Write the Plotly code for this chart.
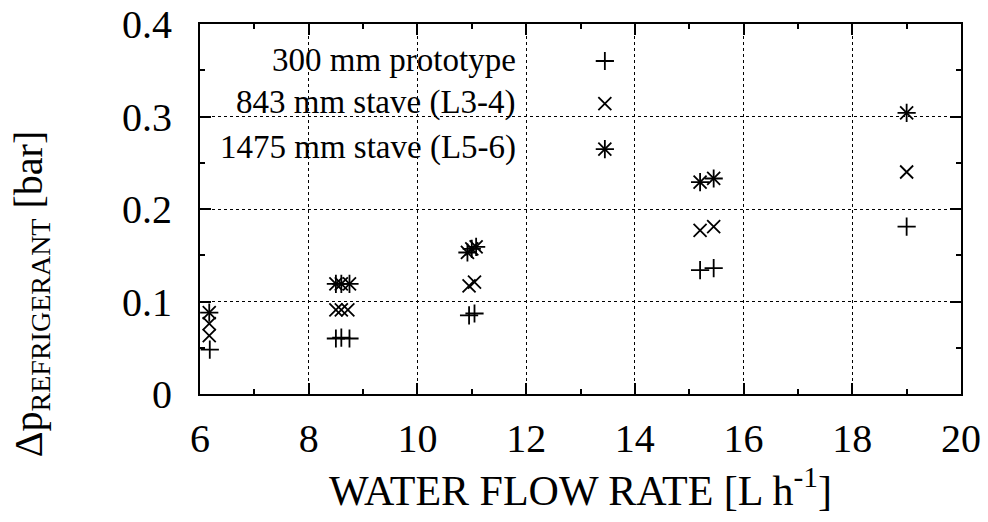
import plotly.graph_objects as go

# Refrigerant pressure drop vs. water flow rate for three stave lengths
proto_flow = [6.18, 8.5, 8.6, 8.75, 10.95, 11.05, 15.2, 15.45, 19.0]
proto_dp = [0.048, 0.060, 0.061, 0.060, 0.085, 0.087, 0.134, 0.136, 0.181]

l34_flow = [6.17, 6.17, 8.5, 8.6, 8.72, 10.95, 11.05, 15.2, 15.45, 19.0]
l34_dp = [0.063, 0.076, 0.091, 0.091, 0.091, 0.117, 0.121, 0.177, 0.181, 0.240]

l56_flow = [6.17, 8.5, 8.6, 8.75, 10.92, 11.0, 11.08, 15.2, 15.45, 19.0]
l56_dp = [0.088, 0.119, 0.119, 0.119, 0.153, 0.157, 0.159, 0.229, 0.233, 0.304]

series_names = ["300 mm prototype", "843 mm stave (L3-4)", "1475 mm stave (L5-6)"]

x_ticks = [6, 8, 10, 12, 14, 16, 18, 20]
y_ticks = [0, 0.1, 0.2, 0.3, 0.4]

FONT = "Liberation Serif"
MSIZE = 13
LW = 1.8


def marker(sym):
    return dict(symbol=sym, size=MSIZE, color="black",
                line=dict(color="black", width=LW))


fig = go.Figure()

# data points
fig.add_trace(go.Scatter(x=proto_flow, y=proto_dp, mode="markers",
                         marker=marker("cross-thin-open"), showlegend=False))
fig.add_trace(go.Scatter(x=l34_flow, y=l34_dp, mode="markers",
                         marker=marker("x-thin-open"), showlegend=False))
# asterisk = plus and cross drawn together
fig.add_trace(go.Scatter(x=l56_flow, y=l56_dp, mode="markers",
                         marker=marker("cross-thin-open"), showlegend=False))
fig.add_trace(go.Scatter(x=l56_flow, y=l56_dp, mode="markers",
                         marker=marker("x-thin-open"), showlegend=False))

# key: text on the left, symbol on the right
key_rows = [0.9, 0.785, 0.662]
key_text_x = 0.418
key_sym_x = 0.532
key_syms = [["cross-thin-open"], ["x-thin-open"], ["cross-thin-open", "x-thin-open"]]
for name, ry, syms in zip(series_names, key_rows, key_syms):
    fig.add_annotation(x=key_text_x, y=ry + 0.004, xref="paper", yref="paper",
                       text=name, showarrow=False, xanchor="right", yanchor="middle",
                       font=dict(family=FONT, size=33, color="black"))
    for s in syms:
        fig.add_trace(go.Scatter(x=[key_sym_x], y=[ry], mode="markers",
                                 marker=marker(s), xaxis="x2", yaxis="y2",
                                 showlegend=False, hoverinfo="skip"))

# opaque key background hides the grid behind it
fig.add_shape(type="rect", xref="paper", yref="paper", x0=0.003, x1=0.63,
              y0=0.586, y1=0.995, fillcolor="white", line=dict(width=0),
              layer="between")

# y-axis title, rotated
fig.add_annotation(x=-0.222, y=0.27, xref="paper", yref="paper",
                   text="Δp<sub>REFRIGERANT</sub> [bar]", textangle=-90,
                   showarrow=False, xanchor="center", yanchor="middle",
                   font=dict(family=FONT, size=40, color="black"))

axis_common = dict(
    showline=True, linecolor="black", linewidth=2, mirror="ticks",
    ticks="inside", ticklen=11, tickwidth=1.5, tickcolor="black",
    showgrid=True, gridcolor="black", griddash="dot", gridwidth=1,
    zeroline=False, automargin=False,
    tickfont=dict(family=FONT, size=40, color="black"),
)

fig.update_layout(
    width=988, height=522,
    margin=dict(l=200, r=27, t=24, b=128),
    paper_bgcolor="white", plot_bgcolor="white",
    font=dict(family=FONT, color="black"),
    xaxis=dict(range=[6, 20], tickvals=x_ticks, ticktext=[str(v) for v in x_ticks],
               minor=dict(ticks="inside", ticklen=5, tickwidth=1.5, dtick=1,
                          tickcolor="black", showgrid=False),
               ticklabelstandoff=8,
               title=dict(text="WATER FLOW RATE [L h<sup>-1</sup>]",
                          font=dict(family=FONT, size=42), standoff=12),
               **axis_common),
    yaxis=dict(range=[0, 0.4], tickvals=y_ticks, ticktext=["0", "0.1", "0.2", "0.3", "0.4"],
               minor=dict(ticks="inside", ticklen=5, tickwidth=1.5, dtick=0.05,
                          tickcolor="black", showgrid=False),
               ticklabelstandoff=18,
               **axis_common),
    xaxis2=dict(overlaying="x", range=[0, 1], visible=False),
    yaxis2=dict(overlaying="y", range=[0, 1], visible=False),
)

fig.write_html("out.html")
